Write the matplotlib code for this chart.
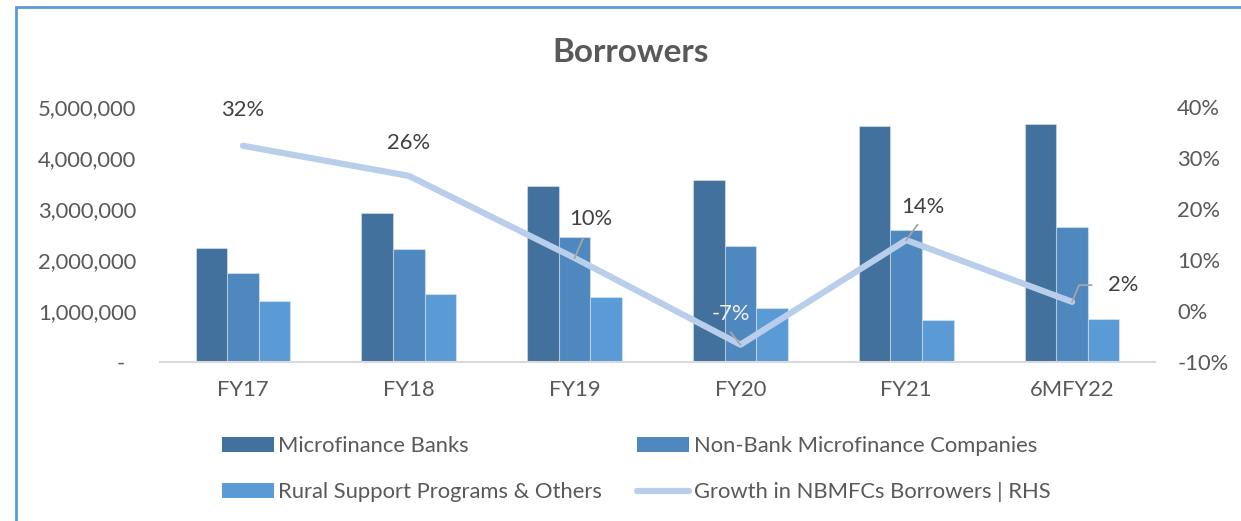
import matplotlib
matplotlib.use("Agg")
import matplotlib.pyplot as plt
import numpy as np
from matplotlib.patches import Patch, Rectangle
from matplotlib.lines import Line2D

plt.rcParams['font.family'] = ['Lato', 'DejaVu Sans']

categories = ["FY17", "FY18", "FY19", "FY20", "FY21", "6MFY22"]
mfb = [2240000, 2920000, 3450000, 3570000, 4630000, 4670000]
nbmfc = [1750000, 2220000, 2450000, 2270000, 2590000, 2650000]
rsp = [1200000, 1330000, 1270000, 1060000, 820000, 840000]
growth = [0.324, 0.265, 0.104, -0.066, 0.139, 0.018]
growth_labels = ["32%", "26%", "10%", "-7%", "14%", "2%"]
left_ticks = [0, 1000000, 2000000, 3000000, 4000000, 5000000]
left_ticklabels = ["-\u00a0\u00a0", "1,000,000", "2,000,000", "3,000,000", "4,000,000", "5,000,000"]
right_ticks = [-0.10, 0.0, 0.10, 0.20, 0.30, 0.40]
right_ticklabels = ["-10%", "0%", "10%", "20%", "30%", "40%"]
series_names = ["Microfinance Banks", "Non-Bank Microfinance Companies",
                "Rural Support Programs & Others", "Growth in NBMFCs Borrowers | RHS"]

c_mfb = "#41719C"
c_nb = "#4E88BE"
c_rsp = "#5B9BD5"
c_line = "#B8CEEA"
txt = "#595959"
lbl = "#404040"
fs = 15.8

W, H = 1241, 521
fig = plt.figure(figsize=(W / 100, H / 100), dpi=100)
ax = fig.add_axes([160 / W, 1 - 362 / H, (1155 - 160) / W, (362 - 107) / H])

x = np.arange(len(categories))
bw = 0.19
edge = (1, 1, 1, 0.35)
ax.bar(x - bw, mfb, bw, color=c_mfb, edgecolor=edge, linewidth=0.8, zorder=2)
ax.bar(x, nbmfc, bw, color=c_nb, edgecolor=edge, linewidth=0.8, zorder=2)
ax.bar(x + bw, rsp, bw, color=c_rsp, edgecolor=edge, linewidth=0.8, zorder=2)

ax.set_xlim(-0.5, len(categories) - 0.5)
ax.set_ylim(0, 5000000)
ax.set_yticks(left_ticks)
ax.set_yticklabels(left_ticklabels)
ax.set_xticks(x)
ax.set_xticklabels(categories)
ax.tick_params(axis='both', length=0, labelsize=fs, labelcolor=txt)
ax.tick_params(axis='y', pad=17)
ax.tick_params(axis='x', pad=13)
for s in ["top", "right", "left"]:
    ax.spines[s].set_visible(False)
ax.spines["bottom"].set_color("#D9D9D9")
ax.spines["bottom"].set_linewidth(1.5)

ax2 = ax.twinx()
ax2.set_ylim(-0.10, 0.40)
ax2.set_yticks(right_ticks)
ax2.set_yticklabels(right_ticklabels)
ax2.tick_params(axis='y', length=0, labelsize=fs, labelcolor=txt, pad=16)
for s in ax2.spines.values():
    s.set_visible(False)
ax2.plot(x, growth, color=c_line, linewidth=4.5, solid_capstyle='round',
         solid_joinstyle='round', zorder=3)

# data labels (offsets in points)
offsets = [(0, 26), (0, 24), (12, 28), (-7, 22), (12, 24), (26, 12)]
for i, (v, t) in enumerate(zip(growth, growth_labels)):
    dx, dy = offsets[i]
    col = "#F2F2F2" if i == 3 else lbl
    ax2.annotate(t, (x[i], v), xytext=(dx, dy), textcoords='offset points',
                 ha='center' if i != 5 else 'left', va='center', fontsize=fs,
                 color=col, zorder=5)
# leader lines (point offsets)
lead = {2: [(0, 0), (6, 14)], 3: [(0, 0), (-7, 9)], 4: [(0, 0), (8, 11)],
        5: [(0, 0), (5, 12), (14, 12)]}
for i, pts in lead.items():
    base = ax2.transData.transform((x[i], growth[i]))
    xs = [base[0] + px * 100 / 72 for px, py in pts]
    ys = [base[1] + py * 100 / 72 for px, py in pts]
    fig.add_artist(Line2D(xs, ys, transform=None, color="#A6A6A6", linewidth=1.3, zorder=6))

fig.text(631 / W, 1 - 52 / H, "Borrowers", ha='center', va='center',
         fontsize=24, fontweight='bold', color=txt)

handles = [Patch(facecolor=c_mfb), Patch(facecolor=c_nb), Patch(facecolor=c_rsp),
           Line2D([0], [0], color=c_line, linewidth=4.5, solid_capstyle='round')]
order = [0, 2, 1, 3]
leg = fig.legend([handles[i] for i in order], [series_names[i] for i in order],
                 ncol=2, loc='upper left', bbox_to_anchor=(211 / W, 1 - 425 / H),
                 frameon=False, fontsize=fs, labelcolor=txt, handlelength=2.35,
                 handleheight=0.7, handletextpad=0.22, columnspacing=1.6,
                 labelspacing=1.2, borderpad=0)

# outer border (partially visible)
fig.add_artist(Rectangle((16 / W, -0.1), 1.2, 1 - 7 / H + 0.1, transform=fig.transFigure,
                         fill=False, edgecolor="#5B9BD5", linewidth=2))

fig.savefig("out.png", dpi=100, facecolor="white")
